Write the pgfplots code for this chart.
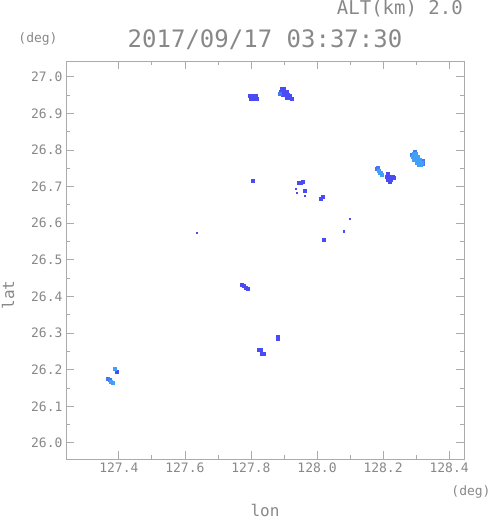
\documentclass[border=0pt]{standalone}
\usepackage{fontspec}
\setmainfont{DejaVu Sans Mono}
\usepackage{pgfplots}
\pgfplotsset{compat=1.18}
\definecolor{axgray}{HTML}{ABABAB}
\definecolor{txtgray}{HTML}{888888}
\definecolor{dblue}{HTML}{4B4BF5}
\definecolor{mblue}{HTML}{4678F0}
\definecolor{lblue}{HTML}{40A0F8}
\begin{document}
\begin{tikzpicture}
\path[use as bounding box] (0pt,0pt) rectangle (491pt,521pt);
\begin{axis}[at={(66pt,62pt)}, anchor=south west, scale only axis,
  width=398pt, height=398pt,
  xmin=127.24, xmax=128.445, ymin=25.956, ymax=27.043,
  xtick={127.4,127.6,127.8,128.0,128.2,128.4},
  ytick={26.0,26.1,26.2,26.3,26.4,26.5,26.6,26.7,26.8,26.9,27.0},
  minor x tick num=1, minor y tick num=1,
  tick align=inside, major tick length=8pt, minor tick length=4pt,
  axis line style={axgray, line width=0.9pt},
  tick style={axgray, line width=0.8pt},
  xticklabel style={font=\fontsize{13}{13}\selectfont, text=txtgray},
  yticklabel style={font=\fontsize{13}{13}\selectfont, text=txtgray},
  /pgf/number format/.cd, fixed, fixed zerofill, precision=1, 1000 sep={}, assume math mode=true,
  /pgfplots/.cd,
  clip=true]
% dark blue cells
\addplot[dblue, only marks, mark=square*, mark size=1.5pt] coordinates {
(127.797,26.948) (127.806,26.948) (127.815,26.948) (127.800,26.941) (127.809,26.941) (127.817,26.941)
(127.893,26.966) (127.900,26.966) (127.890,26.958) (127.899,26.958) (127.908,26.958)
(127.895,26.950) (127.903,26.950) (127.911,26.950) (127.918,26.947)
(127.907,26.943) (127.915,26.942) (127.922,26.941)
(128.214,26.734) (128.210,26.727) (128.219,26.727) (128.228,26.727) (128.214,26.720) (128.223,26.720) (128.219,26.714) (128.232,26.725)
(127.805,26.715) (127.944,26.710) (127.950,26.710) (127.957,26.712) (127.963,26.690)
(128.012,26.668) (128.016,26.672) (128.019,26.556) (127.395,26.195)
(127.771,26.432) (127.777,26.430) (127.783,26.425) (127.789,26.420)
(127.880,26.290) (127.880,26.284)
(127.822,26.255) (127.830,26.255) (127.832,26.244) (127.838,26.244)
};
% tiny dark points
\addplot[dblue, only marks, mark=square*, mark size=0.6pt] coordinates {
(127.936,26.695) (127.939,26.684) (127.963,26.676) (128.099,26.613) (128.081,26.578) (127.636,26.574)
};
% mid blue cells
\addplot[mblue, only marks, mark=square*, mark size=1.5pt] coordinates {
(127.887,26.955) (128.296,26.795) (128.288,26.787) (128.320,26.770) (128.320,26.762)
(128.180,26.749) (128.185,26.752) (127.367,26.176) (127.372,26.172)
};
% light blue cells
\addplot[lblue, only marks, mark=square*, mark size=1.5pt] coordinates {
(128.292,26.790) (128.300,26.790) (128.290,26.782) (128.298,26.782) (128.306,26.782)
(128.294,26.774) (128.302,26.774) (128.310,26.774) (128.302,26.766) (128.311,26.766) (128.316,26.766)
(128.309,26.760) (128.315,26.760)
(128.187,26.744) (128.194,26.739) (128.189,26.737) (128.197,26.733)
(127.374,26.166) (127.380,26.164) (127.387,26.203)
};
\end{axis}
\node[txtgray, font=\fontsize{24}{24}\selectfont, anchor=base] at (265pt,473pt) {2017/09/17 03:37:30};
\node[txtgray, font=\fontsize{19}{19}\selectfont, anchor=base east, inner sep=0pt] at (463pt,506pt) {ALT(km) 2.0};
\node[txtgray, font=\fontsize{13}{13}\selectfont] at (38pt,482pt) {(deg)};
\node[txtgray, font=\fontsize{13}{13}\selectfont] at (471pt,29pt) {(deg)};
\node[txtgray, font=\fontsize{16}{16}\selectfont, anchor=base, inner sep=0pt] at (265pt,5pt) {lon};
\node[txtgray, font=\fontsize{16}{16}\selectfont, rotate=90] at (8pt,226pt) {lat};
\end{tikzpicture}
\end{document}
